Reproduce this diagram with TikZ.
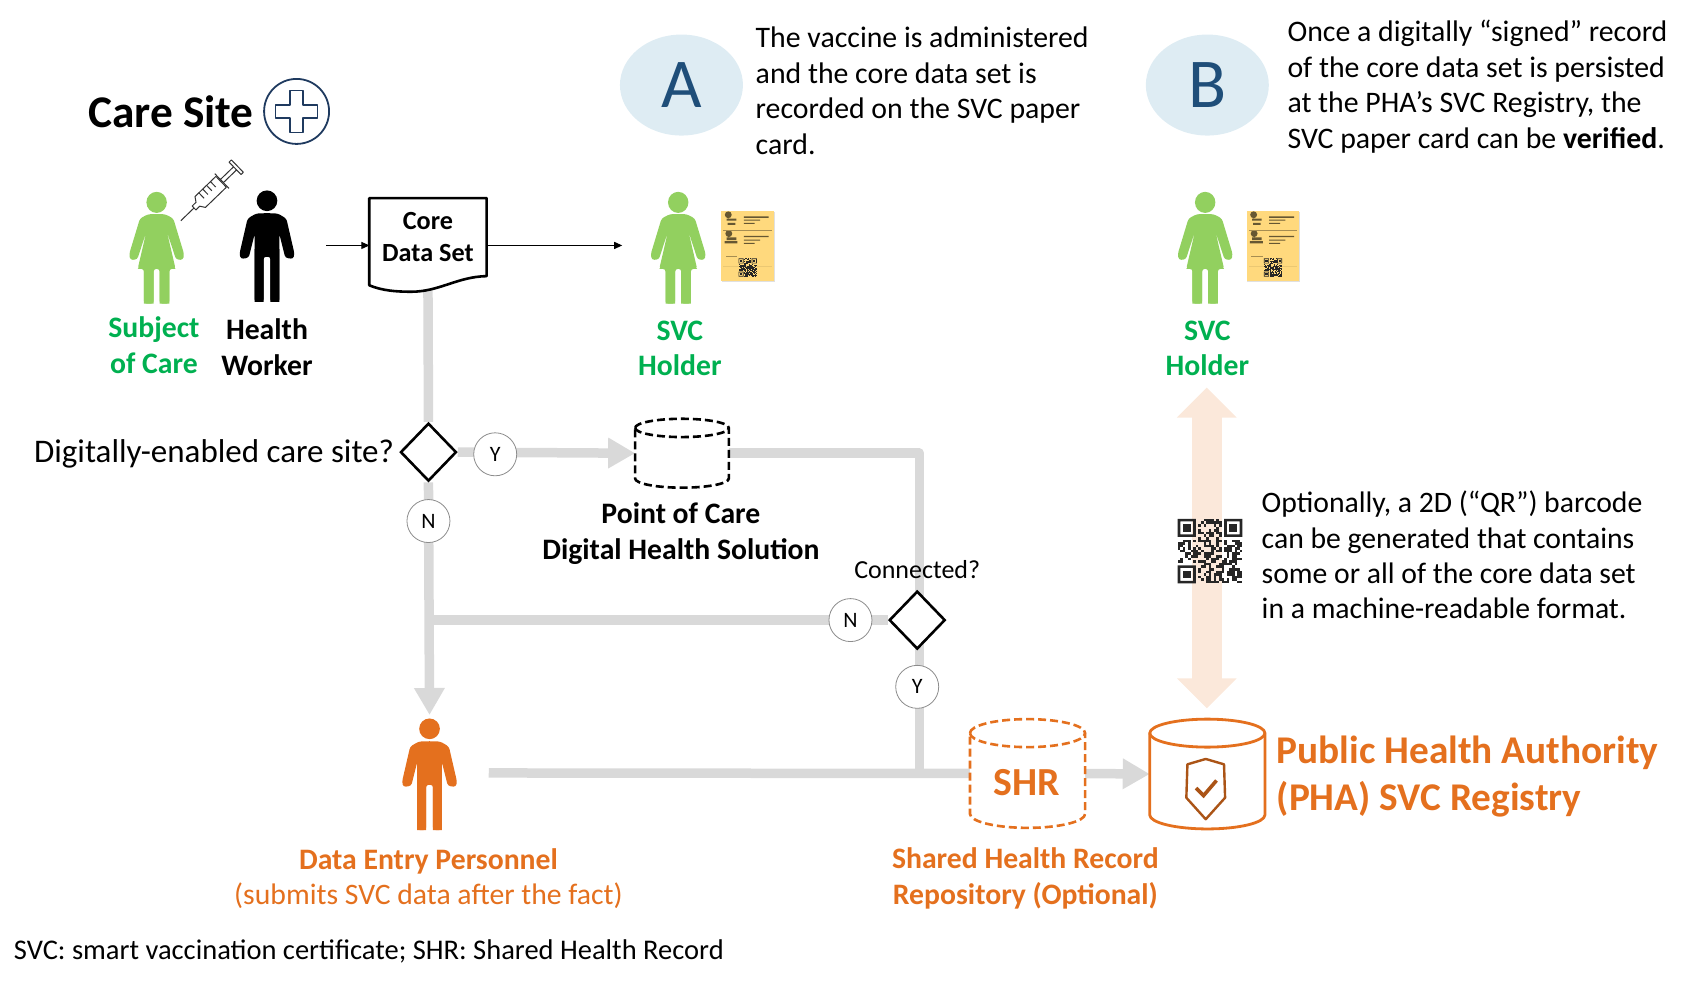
\documentclass[tikz,border=0pt]{standalone}
\usepackage{fontspec}
\setmainfont{Carlito}
\usetikzlibrary{arrows.meta,shapes.geometric,backgrounds,calc}
\definecolor{flowgray}{HTML}{D9D9D9}
\definecolor{peach}{HTML}{FBE8DA}
\definecolor{orng}{HTML}{E4701E}
\definecolor{svcgreen}{HTML}{00B050}
\definecolor{figgreen}{HTML}{92D05F}
\definecolor{navy}{HTML}{1F3A5F}
\definecolor{paleblue}{HTML}{DEECF3}
\definecolor{letterblue}{HTML}{1F4E79}
\definecolor{cardyellow}{HTML}{FFD97D}
\colorlet{cardink}{black!60!cardyellow}
\newcommand{\fs}[2]{\fontsize{#1}{#2}\selectfont}
\tikzset{
  x=1.0765pt,y=-1.0765pt,
  txt/.style={inner sep=0pt,outer sep=0pt,align=left,anchor=west,font=\fs{29.8}{35.5},text=black},
  lbl/.style={inner sep=0pt,outer sep=0pt,align=center,font=\fs{29.7}{35.5}\bfseries},
  flow/.style={draw=flowgray,line width=9.5pt,line join=round},
  flowtip/.style={flow,-{Triangle[length=27pt,width=29pt]}},
  thinarrow/.style={draw=black,line width=1.1pt,-{Triangle[length=8pt,width=7pt]}},
  decision/.style={diamond,draw=black,line width=2.6pt,fill=white,minimum width=56pt,minimum height=58pt,inner sep=0pt},
  answer/.style={circle,draw=gray!90,line width=.8pt,fill=white,minimum size=43pt,inner sep=0pt,font=\fs{22}{24}},
  badge/.style={ellipse,fill=paleblue,minimum width=123pt,minimum height=101pt,inner sep=0pt,text=letterblue,font=\fs{70}{74}},
  blank/.style={inner sep=0pt,outer sep=0pt,draw=none},
  womanfig/.pic={
    \fill[pic actions] (0,0) ellipse (9.5 and 9.8);
    \fill[pic actions,rounded corners=2.6pt]
      (0,10.8) -- (8,11) -- (15.5,15) -- (25.5,48) -- (24.5,53.5) -- (18,53) -- (9.5,27) -- (17.6,61.8) -- (11.8,61.8) -- (11.8,94) -- (2.8,94) -- (2.8,61.8)
      -- (-2.8,61.8) -- (-2.8,94) -- (-11.8,94) -- (-11.8,61.8) -- (-17.6,61.8) -- (-9.5,27) -- (-18,53) -- (-24.5,53.5) -- (-25.5,48) -- (-15.5,15) -- (-8,11) -- cycle;
    \fill[pic actions] (-11.8,55) rectangle (-2.8,94) (2.8,55) rectangle (11.8,94);
    \fill[pic actions] (-11.8,55) -- (11.8,55) -- (17.6,61.8) -- (-17.6,61.8) -- cycle;
  },
  manfig/.pic={
    \fill[pic actions] (0,0) circle (9.6);
    \fill[pic actions,rounded corners=2.6pt]
      (0,11.5) -- (10,11.8) -- (18,16.5) -- (25.5,49) -- (24.5,54) -- (17,53) -- (11.5,31) -- (11.5,52) -- (11.5,94) -- (3.2,94) -- (3.2,52)
      -- (-3.2,52) -- (-3.2,94) -- (-11.5,94) -- (-11.5,52) -- (-11.5,31) -- (-17,53) -- (-24.5,54) -- (-25.5,49) -- (-18,16.5) -- (-10,11.8) -- cycle;
    \fill[pic actions] (-11.5,45) rectangle (-3.2,94) (3.2,45) rectangle (11.5,94);
  }
}
% x-centre, top, half width, bottom, ellipse half height, name, draw options
\newcommand{\cylinder}[7]{%
  \node[blank,minimum width={2*#3*1.0765pt},minimum height={(#4-#2)*1.0765pt}] (#6) at (#1,{(#2+#4)/2}) {};
  \draw[#7,fill=white,line join=round] (#1-#3,#2+#5) arc[x radius=#3,y radius=#5,start angle=180,end angle=360]
     -- (#1+#3,#4-#5) arc[x radius=#3,y radius=#5,start angle=0,end angle=180] -- cycle;
  \draw[#7] (#1-#3,#2+#5) arc[x radius=#3,y radius=#5,start angle=180,end angle=0];
}
% left, top, size, seed
\newcommand{\qrmark}[4]{%
  \begin{scope}[shift={(#1,#2)},x=#3*1.0765pt/25,y=-#3*1.0765pt/25]
    \pgfmathsetseed{#4}
    \foreach \i in {0,...,24}{\foreach \j in {0,...,24}{
      \pgfmathrandominteger{\qrbit}{0}{1}
      \pgfmathtruncatemacro{\qrskip}{((\i<8 && \j<8) || (\i>16 && \j<8) || (\i<8 && \j>16)) ? 1 : 0}
      \ifnum\qrskip=0 \ifnum\qrbit=1 \fill[black!85] (\i,\j) rectangle +(1,1); \fi\fi
    }}
    \foreach \a/\b in {0/0,18/0,0/18}{
      \fill[black!85,even odd rule] (\a,\b) rectangle +(7,7) (\a+1,\b+1) rectangle +(5,5);
      \fill[black!85] (\a+2,\b+2) rectangle +(3,3);
    }
  \end{scope}
}
\newcommand{\cardmark}[2]{%
  \begin{scope}[shift={(#1,#2)}]
    \fill[black!12] (0.8,0.8) rectangle (49.8,65.8);
    \fill[cardyellow] (0,0) rectangle (49,65);
    \fill[cardink] (6.5,3.5) circle (3.2) (5,7) rectangle (14,9) (6,11) rectangle (13,13);
    \fill[cardink] (7,21) circle (3.2) (5,24.5) rectangle (14,27) (3,28) rectangle (15,30);
    \fill[cardink] (21,5) rectangle (44,6.3) (21,8) rectangle (36,9) (21,11) rectangle (31,12);
    \fill[cardink] (21,23) rectangle (44,24.3) (21,26.5) rectangle (36,27.5) (21,29.5) rectangle (31,30.5);
    \fill[black!35!cardyellow] (2,18) rectangle (47,18.8);
    \fill[black!35!cardyellow] (4,42) rectangle (15,43);
    \fill[black!8!cardyellow] (2,51) rectangle (47,51.6);
  \end{scope}
  \qrmark{#1+16}{#2+44}{17}{7}
}
\begin{document}
\begin{tikzpicture}
\useasboundingbox (0,0) rectangle (1568,910.4);

% ---------- badges and captions ----------
\node[badge] (badgeA) at (633,79) {A};
\node[badge] (badgeB) at (1121.5,79) {B};
\node[txt] (textA) at (702,84.5) {The vaccine is administered\\and the core data set is\\recorded on the SVC paper\\card.};
\node[txt] (textB) at (1196,80.5) {Once a digitally “signed” record\\of the core data set is persisted\\at the PHA’s SVC Registry, the\\SVC paper card can be \textbf{verified}.};

% ---------- care site ----------
\node[blank,anchor=west,font=\fs{45.3}{50}\bfseries] (caresite) at (82,104) {Care Site};
\node[circle,draw=navy,line width=1.8pt,minimum size=65pt,inner sep=0pt] (plus) at (275.5,103.5) {};
\draw[navy,line width=1.8pt,line join=round] (269.5,84) -- (281.5,84) -- (281.5,97.5) -- (295,97.5) -- (295,109.5) -- (281.5,109.5) -- (281.5,123) -- (269.5,123) -- (269.5,109.5) -- (256,109.5) -- (256,97.5) -- (269.5,97.5) -- cycle;

% ---------- people ----------
\pic[fill=figgreen] at (145.5,188) {womanfig};
\pic[fill=black] at (248,186.5) {manfig};
\pic[fill=figgreen] at (630,188) {womanfig};
\pic[fill=figgreen] at (1119.5,188) {womanfig};
\pic[fill=orng] at (399,677) {manfig};
\node[blank,minimum width=56pt,minimum height=111pt] (dpe) at (399,718.5) {};

% ---------- syringe ----------
\begin{scope}[shift={(168,205)},rotate=44,draw=black!80,line width=1pt,line join=round]
  \draw (0,0) -- (17,0);
  \draw (17,-2.5) -- (22,-2.5) -- (25,-7) -- (52,-7) -- (52,7) -- (25,7) -- (22,2.5) -- (17,2.5) -- cycle;
  \draw (30,-7) -- (30,0) (35,-7) -- (35,0) (40,-7) -- (40,0) (45,-7) -- (45,0);
  \draw (53,-9.5) -- (53,9.5) (53,-2) -- (70,-2) (53,2) -- (70,2) (70,-8) -- (70,8) (73,-8) -- (73,8) (70,-8) -- (73,-8) (70,8) -- (73,8);
\end{scope}

% ---------- person labels ----------
\node[lbl,text=svcgreen] (subject) at (143,320.5) {Subject\\of Care};
\node[lbl] (worker) at (248,322.5) {Health\\Worker};
\node[lbl,text=svcgreen] (holderA) at (631.5,323.5) {SVC\\Holder};
\node[lbl,text=svcgreen] (holderB) at (1121.5,323.5) {SVC\\Holder};

% ---------- cards ----------
\cardmark{670}{196}
\cardmark{1158}{196}

% ---------- core data set ----------
\node[blank,minimum width=117pt,minimum height=80pt] (doc) at (397.5,221) {};
\draw[black,line width=2.6pt,fill=white,line join=round] (343,184) -- (452,184) -- (452,256.5)
   .. controls (425,257) and (408,271) .. (382,271) .. controls (368,271) and (355,270) .. (343,265) -- cycle;
\node[lbl,font=\fs{26.2}{31.5}\bfseries] (coretext) at (397.5,220) {Core\\Data Set};
\coordinate (inA) at (303,228);
\coordinate (outA) at (578,228);

% ---------- decisions ----------
\node[decision] (dia1) at (398,420) {};
\node[decision] (dia2) at (852,576) {};
\node[answer] (y1) at (460,422) {Y};
\node[answer] (n1) at (398,484) {N};
\node[answer] (n2) at (790,576) {N};
\node[answer] (y2) at (852,638) {Y};
\node[blank,anchor=east,font=\fs{33}{36}] (question) at (366,422) {Digitally-enabled care site?};
\node[blank,font=\fs{26}{30}] (connected) at (852,529) {Connected?};

% ---------- stores ----------
\cylinder{633.5}{389}{43.5}{453}{8.5}{poc}{black,line width=2.6pt,dash pattern=on 8pt off 4pt}
\node[lbl] (poctext) at (632.5,495.5) {Point of Care\\Digital Health Solution};
\cylinder{954.5}{668}{53.5}{769}{13}{shr}{orng,line width=2.6pt,dash pattern=on 8pt off 4pt}
\node[blank,text=orng,font=\fs{39.8}{44}\bfseries] (shrtext) at (954,727) {SHR};
\cylinder{1121.5}{668}{53.5}{770}{13}{pha}{orng,line width=2.8pt}
\draw[black!25!orng,line width=2.4pt,line join=round] (1120,705) -- (1137,710) -- (1138,741) -- (1120,761) -- (1102,741) -- (1103,710) -- cycle;
\draw[black!25!orng,line width=3.6pt] (1111,732) -- (1118,739) -- (1130,725);

% ---------- orange labels ----------
\node[lbl,text=orng] (dpetext) at (398,816) {Data Entry Personnel\\\mdseries (submits SVC data after the fact)};
\node[lbl,text=orng] (shrlabel) at (952.5,816) {Shared Health Record\\Repository (Optional)};
\node[blank,anchor=west,align=left,text=orng,font=\fs{39.3}{47.5}\bfseries] (phatext) at (1186,721.5) {Public Health Authority\\(PHA) SVC Registry};

% ---------- QR note ----------
\node[txt,font=\fs{29.7}{35.2}] (qrnote) at (1172,515.5) {Optionally, a 2D (“QR”) barcode\\can be generated that contains\\some or all of the core data set\\in a machine-readable format.};
\node[blank,anchor=west,font=\fs{28.5}{32}] (footer) at (13,884) {SVC: smart vaccination certificate; SHR: Shared Health Record};

% ---------- connectors ----------
\coordinate (j1) at (398,576);
\coordinate (c1) at (854,421);
\coordinate (c2) at (854,718);
\coordinate (dpeout) at (454,718);
\coordinate (peachtop) at (1121,360);
\coordinate (peachbot) at (1121,658);
\begin{pgfonlayer}{background}
  \draw[draw=peach,line width=30pt,{Triangle[length=30pt,width=58pt]}-{Triangle[length=30pt,width=58pt]}] (peachtop) -- (peachbot);
  \draw[flow] (doc.south) -- (dia1.north);
  \draw[flowtip,shorten >=3pt] (dia1.south) -- (dpe.north);
  \draw[flowtip] (dia1.east) -- (poc.west);
  \draw[flow] (poc.east) -- (c1) -- (c2);
  \draw[flow] (dia2.west) -- (j1);
  \draw[flow] (dpeout) -- (shr.west);
  \draw[flowtip] (shr.east) -- (pha.west);
\end{pgfonlayer}
\draw[thinarrow] (inA) -- (inA -| doc.west);
\draw[thinarrow] (doc.east |- outA) -- (outA);
\qrmark{1094}{482}{60}{11}
\end{tikzpicture}
\end{document}
